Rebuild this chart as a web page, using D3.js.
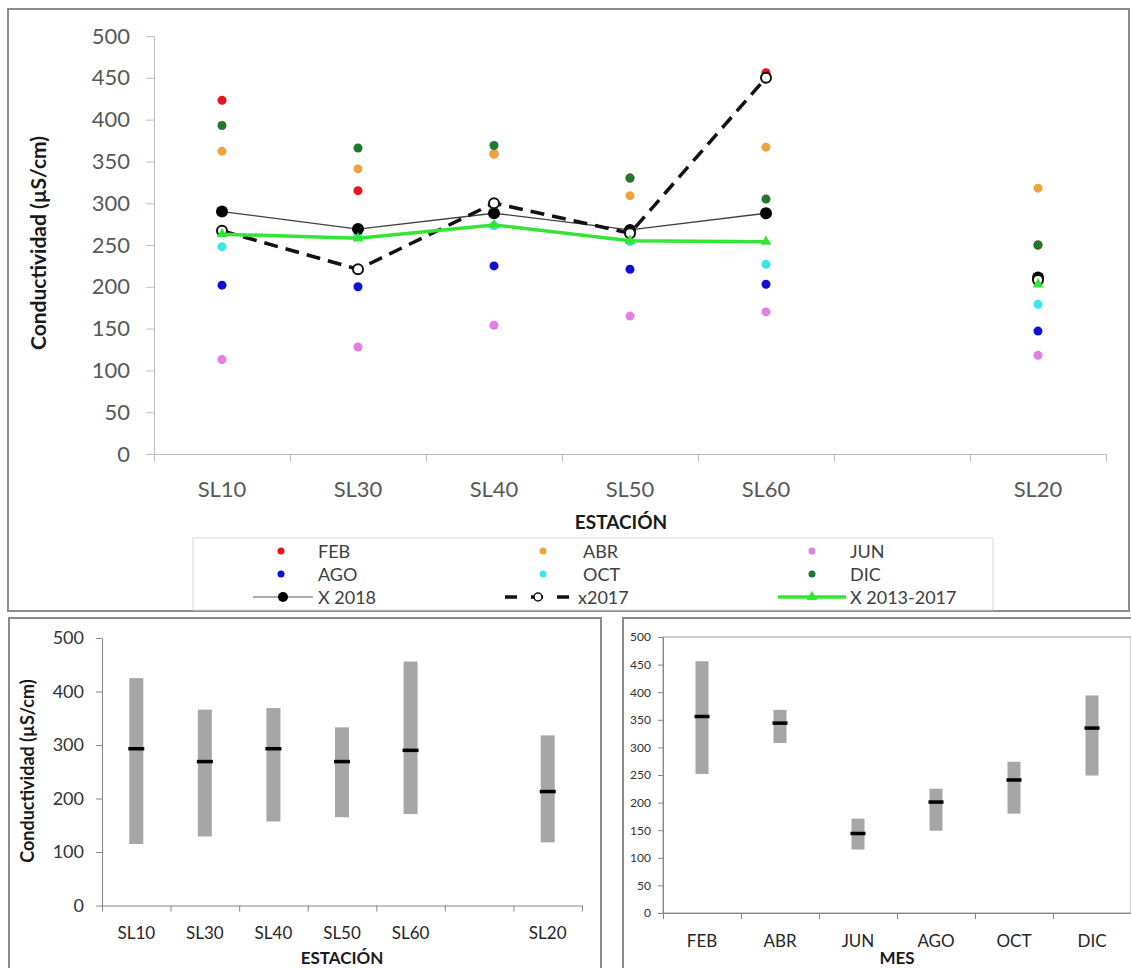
<!DOCTYPE html>
<html>
<head>
<meta charset="utf-8">
<script src="https://cdn.jsdelivr.net/npm/d3@7"></script>
<style>
  body { margin: 0; background: #fff; }
  svg { display: block; font-family: Lato, "Open Sans", sans-serif; }
</style>
</head>
<body>
<svg id="chart" width="1131" height="968"></svg>
<script>
// --- data ---
const stations = ['SL10', 'SL30', 'SL40', 'SL50', 'SL60', '', 'SL20'];
const feb = [423, 315, 359, 330, 456, null, 250];
const abr = [362, 341, 359, 309, 367, null, 318];
const jun = [113, 128, 154, 165, 170, null, 118];
const ago = [202, 200, 225, 221, 203, null, 147];
const oct = [248, 261, 273, 254, 227, null, 179];
const dic = [393, 366, 369, 330, 305, null, 250];
const x2018 = [290, 269, 288, 268, 288, null, 211];
const x2017 = [267, 221, 300, 264, 450, null, 208];
const x1317 = [263, 258, 274, 255, 254, null, 203];

const stMax = [425, 366, 369, 333, 456, null, 318];
const stMin = [115, 129, 157, 165, 171, null, 118];
const stMean = [293, 269, 293, 269, 290, null, 213];

const months = ['FEB', 'ABR', 'JUN', 'AGO', 'OCT', 'DIC'];
const moMax = [456, 368, 171, 225, 274, 394];
const moMin = [252, 308, 115, 149, 180, 249];
const moMean = [356, 344, 144, 201, 241, 335];

const yTicks = [0, 50, 100, 150, 200, 250, 300, 350, 400, 450, 500];

const svg = d3.select('#chart');

// frames
svg.append('rect').attr('x', 8).attr('y', 9).attr('width', 1121).attr('height', 602)
    .attr('fill', 'none').attr('stroke', '#8c8c8c').attr('stroke-width', 2);
svg.append('rect').attr('x', 9).attr('y', 618).attr('width', 592).attr('height', 360)
    .attr('fill', 'none').attr('stroke', '#8c8c8c').attr('stroke-width', 2);
svg.append('rect').attr('x', 623).attr('y', 618).attr('width', 520).attr('height', 360)
    .attr('fill', 'none').attr('stroke', '#8c8c8c').attr('stroke-width', 2);

// boundary ticks for a category axis
function boundaryTicks(g, x0, x1, n, y, len, color) {
    const b = d3.scaleLinear().domain([0, n]).range([x0, x1]);
    g.append('g')
        .attr('transform', 'translate(0,' + y + ')')
        .call(d3.axisBottom(b).tickValues(d3.range(n + 1)).tickFormat('').tickSizeInner(len).tickSizeOuter(0))
        .call(a => a.select('.domain').attr('stroke', color))
        .call(a => a.selectAll('.tick line').attr('stroke', color));
}

// ================= top chart =================
const main = svg.append('g');
const x = d3.scaleBand().domain(stations).range([154, 1106]);
const y = d3.scaleLinear().domain([0, 500]).range([454, 36]);

main.append('g')
    .attr('transform', 'translate(154,0)')
    .call(d3.axisLeft(y).tickValues(yTicks).tickSizeInner(8).tickSizeOuter(0).tickPadding(16))
    .call(a => a.select('.domain').attr('stroke', '#bfbfbf'))
    .call(a => a.selectAll('.tick line').attr('stroke', '#bfbfbf'))
    .call(a => a.selectAll('text').attr('font-size', 22).attr('fill', '#595959').attr('font-family', 'Lato'));

boundaryTicks(main, 154, 1106, stations.length, 454, 8, '#bfbfbf');
main.append('g')
    .attr('transform', 'translate(0,454)')
    .call(d3.axisBottom(x).tickSize(0))
    .call(a => a.select('.domain').remove())
    .call(a => a.selectAll('text').attr('dy', null).attr('y', 43)
        .attr('font-size', 22).attr('fill', '#595959').attr('font-family', 'Lato'));

main.append('text')
    .attr('transform', 'translate(37,243) rotate(-90)')
    .attr('text-anchor', 'middle').attr('dominant-baseline', 'central')
    .attr('font-size', 21).attr('font-weight', 'bold').attr('fill', '#1a1a1a')
    .text('Conductividad (µS/cm)');
main.append('text')
    .attr('x', 621).attr('y', 529).attr('text-anchor', 'middle')
    .attr('font-size', 19).attr('font-weight', 'bold').attr('fill', '#1a1a1a')
    .text('ESTACIÓN');

const monthSeries = [
    { name: 'FEB', values: feb, color: '#e8141b' },
    { name: 'ABR', values: abr, color: '#f0a23c' },
    { name: 'JUN', values: jun, color: '#e57ee6' },
    { name: 'AGO', values: ago, color: '#1010d0' },
    { name: 'OCT', values: oct, color: '#3ae6ea' },
    { name: 'DIC', values: dic, color: '#217a2c' }
];

const cx = i => x(stations[i]) + x.bandwidth() / 2;

monthSeries.forEach(s => {
    main.append('g').selectAll('circle')
        .data(s.values.map((v, i) => ({ v, i })).filter(d => d.v != null))
        .join('circle')
        .attr('cx', d => cx(d.i)).attr('cy', d => y(d.v))
        .attr('r', 4.5).attr('fill', s.color);
});

const line = d3.line()
    .defined(d => d.v != null)
    .x(d => cx(d.i)).y(d => y(d.v));
const pts = arr => arr.map((v, i) => ({ v, i }));

// X 2018
main.append('path').datum(pts(x2018)).attr('d', line)
    .attr('fill', 'none').attr('stroke', '#404040').attr('stroke-width', 1.3);
main.append('g').selectAll('circle').data(pts(x2018).filter(d => d.v != null)).join('circle')
    .attr('cx', d => cx(d.i)).attr('cy', d => y(d.v)).attr('r', 6).attr('fill', '#000');

// x2017
main.append('path').datum(pts(x2017)).attr('d', line)
    .attr('fill', 'none').attr('stroke', '#111').attr('stroke-width', 3.5).attr('stroke-dasharray', '14,8');
main.append('g').selectAll('circle').data(pts(x2017).filter(d => d.v != null)).join('circle')
    .attr('cx', d => cx(d.i)).attr('cy', d => y(d.v)).attr('r', 5)
    .attr('fill', '#fff').attr('stroke', '#111').attr('stroke-width', 2);

// X 2013-2017
const green = '#33e633';
main.append('path').datum(pts(x1317)).attr('d', line)
    .attr('fill', 'none').attr('stroke', green).attr('stroke-width', 3.5);
const tri = d3.symbol().type(d3.symbolTriangle).size(50);
main.append('g').selectAll('path').data(pts(x1317).filter(d => d.v != null)).join('path')
    .attr('transform', d => 'translate(' + cx(d.i) + ',' + y(d.v) + ')')
    .attr('d', tri).attr('fill', green);

// legend
const leg = main.append('g');
leg.append('rect').attr('x', 193).attr('y', 538).attr('width', 800).attr('height', 72)
    .attr('fill', '#fff').attr('stroke', '#d9d9d9');
const colMark = [281, 543, 812];
const colText = [318, 583, 850];
const rowY = [551, 574, 597];
monthSeries.forEach((s, k) => {
    const c = k % 3, r = Math.floor(k / 3);
    leg.append('circle').attr('cx', colMark[c]).attr('cy', rowY[r]).attr('r', 3.5).attr('fill', s.color);
    leg.append('text').attr('x', colText[c]).attr('y', rowY[r]).attr('dominant-baseline', 'central')
        .attr('font-size', 18).attr('fill', '#404040').text(s.name);
});
// X 2018
leg.append('line').attr('x1', 253).attr('x2', 313).attr('y1', rowY[2]).attr('y2', rowY[2])
    .attr('stroke', '#8c8c8c').attr('stroke-width', 1.5);
leg.append('circle').attr('cx', 283).attr('cy', rowY[2]).attr('r', 5).attr('fill', '#000');
leg.append('text').attr('x', colText[0]).attr('y', rowY[2]).attr('dominant-baseline', 'central')
    .attr('font-size', 18).attr('fill', '#404040').text('X 2018');
// x2017
leg.append('line').attr('x1', 505).attr('x2', 570).attr('y1', rowY[2]).attr('y2', rowY[2])
    .attr('stroke', '#111').attr('stroke-width', 3.5).attr('stroke-dasharray', '12,14');
leg.append('circle').attr('cx', 538).attr('cy', rowY[2]).attr('r', 4)
    .attr('fill', '#fff').attr('stroke', '#111').attr('stroke-width', 1.5);
leg.append('text').attr('x', 578).attr('y', rowY[2]).attr('dominant-baseline', 'central')
    .attr('font-size', 18).attr('fill', '#404040').text('x2017');
// X 2013-2017
leg.append('line').attr('x1', 778).attr('x2', 846).attr('y1', rowY[2]).attr('y2', rowY[2])
    .attr('stroke', green).attr('stroke-width', 3.5);
leg.append('path').attr('transform', 'translate(812,' + rowY[2] + ')').attr('d', tri).attr('fill', green);
leg.append('text').attr('x', colText[2]).attr('y', rowY[2]).attr('dominant-baseline', 'central')
    .attr('font-size', 18).attr('fill', '#404040').text('X 2013-2017');

// ================= range chart helper =================
function rangeChart(opts) {
    const g = svg.append('g');
    const xs = d3.scaleBand().domain(opts.cats).range([opts.x0, opts.x1]);
    const ys = d3.scaleLinear().domain([0, 500]).range([opts.y0, opts.y1]);
    if (opts.border) {
        g.append('rect').attr('x', opts.x0).attr('y', opts.y1).attr('width', opts.x1 - opts.x0)
            .attr('height', opts.y0 - opts.y1).attr('fill', 'none').attr('stroke', '#9a9a9a');
    }
    g.append('g')
        .attr('transform', 'translate(' + opts.x0 + ',0)')
        .call(d3.axisLeft(ys).tickValues(opts.yTicks).tickSizeInner(opts.tickLen).tickSizeOuter(0).tickPadding(opts.pad))
        .call(a => a.select('.domain').attr('stroke', '#868686'))
        .call(a => a.selectAll('.tick line').attr('stroke', '#868686'))
        .call(a => a.selectAll('text').attr('font-size', opts.yFont).attr('fill', '#333').attr('font-family', 'Lato'));
    boundaryTicks(g, opts.x0, opts.x1, opts.cats.length, opts.y0, 6, '#868686');
    g.append('g')
        .attr('transform', 'translate(0,' + opts.y0 + ')')
        .call(d3.axisBottom(xs).tickSize(0))
        .call(a => a.select('.domain').remove())
        .call(a => a.selectAll('text').attr('dy', null).attr('y', opts.labelY)
            .attr('font-size', 17).attr('fill', '#262626').attr('font-family', 'Lato'));

    const data = opts.cats.map((c, i) => ({ c, lo: opts.min[i], hi: opts.max[i], m: opts.mean[i] }))
        .filter(d => d.lo != null);
    const bw = opts.barW;
    g.append('g').selectAll('rect').data(data).join('rect')
        .attr('x', d => xs(d.c) + xs.bandwidth() / 2 - bw / 2)
        .attr('y', d => ys(d.hi)).attr('width', bw).attr('height', d => ys(d.lo) - ys(d.hi))
        .attr('fill', '#a6a6a6');
    g.append('g').selectAll('rect').data(data).join('rect')
        .attr('x', d => xs(d.c) + xs.bandwidth() / 2 - (bw + 2) / 2)
        .attr('y', d => ys(d.m) - 1.75).attr('width', bw + 2).attr('height', 3.5)
        .attr('fill', '#000');
    return g;
}

// bottom-left: by station
const bl = rangeChart({
    cats: stations, min: stMin, max: stMax, mean: stMean,
    x0: 102, x1: 582, y0: 905.5, y1: 638, yTicks: [0, 100, 200, 300, 400, 500],
    tickLen: 6, pad: 12, yFont: 18, labelY: 33, barW: 14, border: false
});
bl.append('text')
    .attr('transform', 'translate(27,771) rotate(-90)')
    .attr('text-anchor', 'middle').attr('dominant-baseline', 'central')
    .attr('font-size', 18).attr('font-weight', 'bold').attr('fill', '#1a1a1a')
    .text('Conductividad  (µS/cm)');
bl.append('text').attr('x', 342).attr('y', 964).attr('text-anchor', 'middle')
    .attr('font-size', 17).attr('font-weight', 'bold').attr('fill', '#1a1a1a').text('ESTACIÓN');

// bottom-right: by month
const br = rangeChart({
    cats: months, min: moMin, max: moMax, mean: moMean,
    x0: 663, x1: 1131, y0: 913, y1: 637, yTicks: yTicks,
    tickLen: 5, pad: 7, yFont: 12, labelY: 34, barW: 13, border: true
});
br.append('text').attr('x', 897).attr('y', 964).attr('text-anchor', 'middle')
    .attr('font-size', 17).attr('font-weight', 'bold').attr('fill', '#1a1a1a').text('MES');
</script>
</body>
</html>
